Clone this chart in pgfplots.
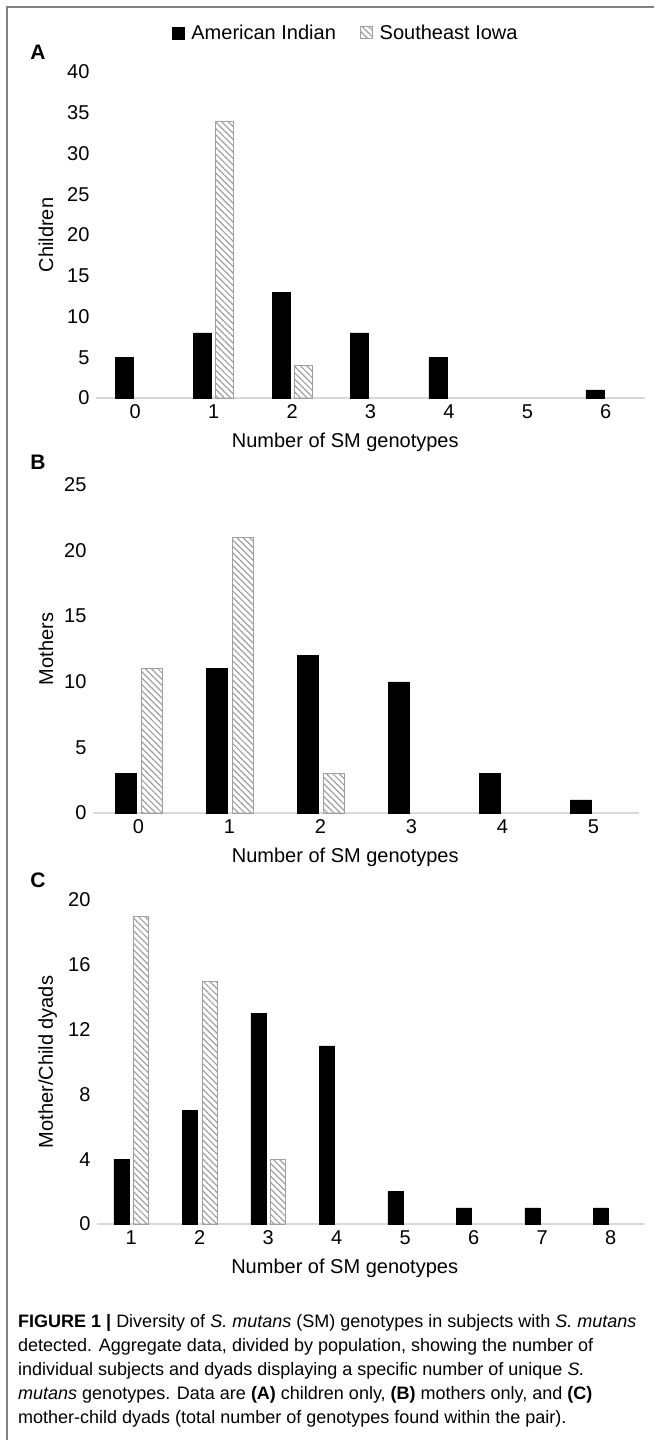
\documentclass[border=0pt]{standalone}
\usepackage{fontspec}
\setmainfont{Liberation Sans}
\usepackage{pgfplots}
\pgfplotsset{compat=1.18}
\usetikzlibrary{patterns.meta}

\definecolor{hatch}{RGB}{160,160,160}
\definecolor{axisgray}{RGB}{217,217,217}
\definecolor{framegray}{RGB}{128,128,128}

\pgfplotsset{
  panel/.style={
    scale only axis, anchor=south west,
    ymin=0,
    axis x line*=bottom, axis y line*=left,
    y axis line style={draw=none},
    x axis line style={draw=axisgray, line width=1.2pt},
    major tick length=0pt, tick style={draw=none},
    tick label style={font=\fontsize{20}{22}\selectfont},
    label style={font=\fontsize{20}{22}\selectfont},
    /pgf/number format/assume math mode=true,
    yticklabel style={xshift=-3pt},
    xticklabel style={yshift=-3pt},
    clip=false,
  },
  blackbar/.style={fill=black, draw=black},
  hatchbar/.style={draw=hatch, line width=0.8pt,
    pattern={Lines[angle=-45,distance=4.5pt,line width=1.2pt]}, pattern color=hatch},
  sqlegend/.style={legend image code/.code={\draw[##1] (0pt,-6pt) rectangle (12pt,6pt);}},
}

\begin{document}
\begin{tikzpicture}
\useasboundingbox (0pt,0pt) rectangle (654pt,-1440pt);
\draw[framegray, line width=2pt] (7pt,-1440pt) -- (7pt,-7pt) -- (654pt,-7pt);

% Panel A
\begin{axis}[panel, at={(96pt,-398pt)}, width=549pt, height=326pt,
  xmin=-0.5, xmax=6.5, ymax=40, ytick={0,5,...,40}, xtick={0,...,6},
  ybar=4pt, bar width=18pt,
  xlabel={Number of SM genotypes}, ylabel={Children},
  xlabel style={at={(axis description cs:0.454,0)}, anchor=center, yshift=-44pt},
  ylabel style={at={(axis description cs:-0.091,0.5)}, anchor=center},
  legend columns=2,
  legend style={draw=none, fill=none, font=\fontsize{20}{22}\selectfont,
    at={(axis description cs:0.455,1.12)}, anchor=center,
    /tikz/every odd column/.append style={column sep=5pt},
    /tikz/every even column/.append style={column sep=22pt}},
]
\addplot[blackbar, sqlegend] coordinates {(0,5) (1,8) (2,13) (3,8) (4,5) (6,1)};
\addplot[hatchbar, sqlegend] coordinates {(1,34) (2,4)};
\legend{American Indian, Southeast Iowa}
\end{axis}

% Panel B
\begin{axis}[panel, at={(93pt,-813pt)}, width=546pt, height=328pt,
  xmin=-0.5, xmax=5.5, ymax=25, ytick={0,5,...,25}, xtick={0,...,5},
  ybar=5pt, bar width=21pt,
  xlabel={Number of SM genotypes}, ylabel={Mothers},
  xlabel style={at={(axis description cs:0.462,0)}, anchor=center, yshift=-44pt},
  ylabel style={at={(axis description cs:-0.086,0.5)}, anchor=center},
]
\addplot[blackbar] coordinates {(0,3) (1,11) (2,12) (3,10) (4,3) (5,1)};
\addplot[hatchbar] coordinates {(0,11) (1,21) (2,3)};
\end{axis}

% Panel C
\begin{axis}[panel, at={(97pt,-1224pt)}, width=548pt, height=324pt,
  xmin=0.5, xmax=8.5, ymax=20, ytick={0,4,...,20}, xtick={1,...,8},
  ybar=5pt, bar width=15pt,
  xlabel={Number of SM genotypes}, ylabel={Mother/Child dyads},
  xlabel style={at={(axis description cs:0.452,0)}, anchor=center, yshift=-44pt},
  ylabel style={at={(axis description cs:-0.09,0.5)}, anchor=center},
]
\addplot[blackbar] coordinates {(1,4) (2,7) (3,13) (4,11) (5,2) (6,1) (7,1) (8,1)};
\addplot[hatchbar] coordinates {(1,19) (2,15) (3,4)};
\end{axis}

\node[font=\fontsize{21}{23}\bfseries] at (38pt,-52pt) {A};
\node[font=\fontsize{21}{23}\bfseries] at (38pt,-462pt) {B};
\node[font=\fontsize{21}{23}\bfseries] at (38pt,-880pt) {C};

\node[anchor=north west, align=left, inner sep=0pt,
  font=\fontsize{18}{24}\selectfont] at (18pt,-1314pt) {%
\textbf{FIGURE 1 |} Diversity of \textit{S. mutans} (SM) genotypes in subjects with \textit{S. mutans}\\
detected. Aggregate data, divided by population, showing the number of\\
individual subjects and dyads displaying a specific number of unique \textit{S.}\\
\textit{mutans} genotypes. Data are \textbf{(A)} children only, \textbf{(B)} mothers only, and \textbf{(C)}\\
mother-child dyads (total number of genotypes found within the pair).};
\end{tikzpicture}
\end{document}
